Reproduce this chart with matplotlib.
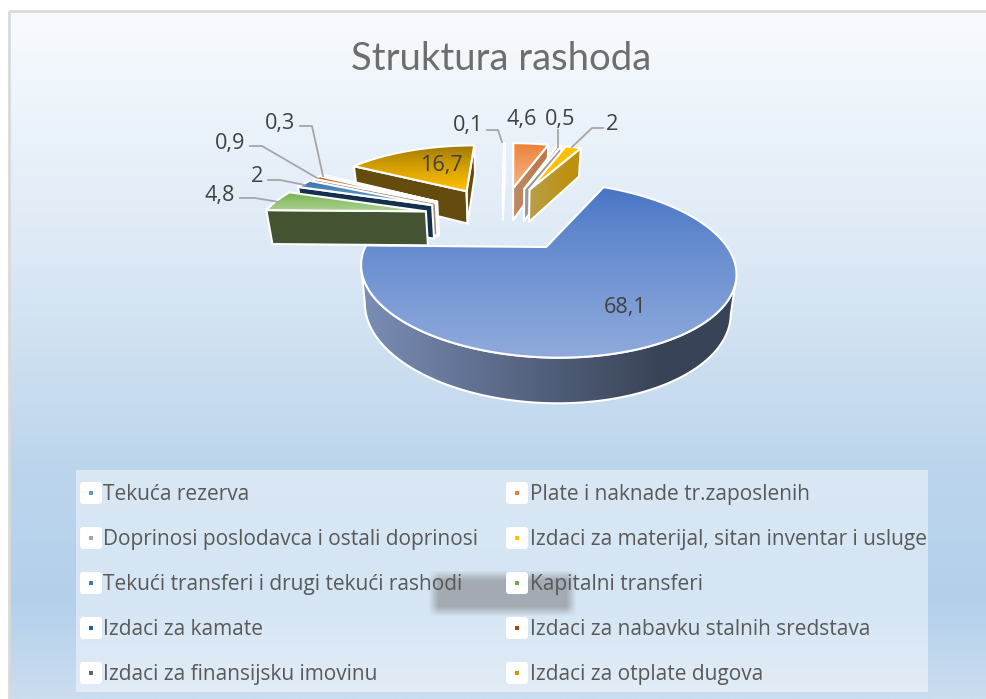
import numpy as np
import matplotlib
matplotlib.use("Agg")
import matplotlib.pyplot as plt
from matplotlib.patches import Polygon, Rectangle, FancyBboxPatch
from matplotlib.colors import to_rgb

title = "Struktura rashoda"
categories = ["Tekuća rezerva", "Plate i naknade tr.zaposlenih",
              "Doprinosi poslodavca i ostali doprinosi", "Izdaci za materijal, sitan inventar i usluge",
              "Tekući transferi i drugi tekući rashodi", "Kapitalni transferi",
              "Izdaci za kamate", "Izdaci za nabavku stalnih sredstava",
              "Izdaci za finansijsku imovinu", "Izdaci za otplate dugova"]
values = [0.1, 4.6, 0.5, 2, 68.1, 4.8, 2, 0.9, 0.3, 16.7]
value_labels = ["0,1", "4,6", "0,5", "2", "68,1", "4,8", "2", "0,9", "0,3", "16,7"]

# styles
legend_colors = ["#5B9BD5", "#ED7D31", "#A5A5A5", "#FFC000", "#4472C4", "#70AD47",
                 "#255E91", "#9E480E", "#636363", "#C79A00"]
top_dark = ["#FFFFFF", "#ED7D31", "#A5A5A5", "#FFC000", "#4472C4", "#70AD47",
            "#2E6CA4", "#B5541A", "#7A7A7A", "#997300"]
top_light = ["#FFFFFF", "#F4B183", "#C0C0C0", "#FFC000", "#8FAADC", "#A9D18E",
             "#6FA3D6", "#D99A6C", "#B0B0B0", "#FFC000"]
wall_a = ["#FFFFFF", "#BC8A68", "#9A9A9A", "#B79F4A", "#7A8DB5", "#445433",
          "#13304D", "#A58A78", "#777777", "#654C0E"]
wall_b = ["#FFFFFF", "#BC7A48", "#9A9A9A", "#BE900F", "#394357", "#445433",
          "#13304D", "#A58A78", "#777777", "#654C0E"]
label_pos = [(468, 126), (522, 119), (560, 119), (612, 124), (625, 307),
             (220, 196), (257, 176), (230, 143), (280, 123), (441, 165)]
leaders = [[(487, 130), (498, 130), (502, 142)], None, [(558, 130), (558, 147)],
           [(603, 128), (592, 128), (572, 147)], None,
           [(240, 198), (255, 198), (279, 202)], [(268, 180), (280, 180), (305, 185)],
           [(250, 146), (262, 146), (317, 178)], [(300, 126), (312, 126), (323, 176)], None]

W, H = 986, 699
fig = plt.figure(figsize=(W / 100, H / 100), dpi=100, facecolor="white")
ax = fig.add_axes([0, 0, 1, 1])
ax.set_axis_off()
FONT = ["Open Sans", "DejaVu Sans"]
TXT = "#595959"


def rgb(c):
    return np.array(to_rgb(c))


def gradient(poly, c0, c1, vertical=True, z=1, gamma=0.75):
    poly = np.asarray(poly)
    x0, y0 = poly.min(axis=0)
    x1, y1 = poly.max(axis=0)
    t = np.linspace(0, 1, 128)
    t = np.clip(t / 0.8, 0, 1) if not vertical else t ** gamma
    t = t[:, None] if vertical else t[None, :]
    img = rgb(c0) * (1 - t[..., None]) + rgb(c1) * t[..., None]
    im = ax.imshow(img, extent=(x0, x1 + 1e-3, y1 + 1e-3, y0), aspect="auto", zorder=z, interpolation="bilinear")
    patch = Polygon(poly, closed=True, transform=ax.transData, facecolor="none", edgecolor="none")
    ax.add_patch(patch)
    im.set_clip_path(patch)
    ax.add_patch(Polygon(poly, closed=True, facecolor="none", edgecolor="white", lw=1.5, zorder=z + 0.01,
                         joinstyle="round"))


# chart background
stops_y = [11, 240, 470, 600, 699]
stops_c = ["#F8FBFE", "#DEEAF6", "#BCD5EC", "#B3D0EB", "#CBDDF0"]
yy = np.linspace(11, 699, 256)
bg = np.stack([np.interp(yy, stops_y, [rgb(c)[i] for c in stops_c]) for i in range(3)], axis=1)[:, None, :]
ax.imshow(bg, extent=(9, W, H, 11), aspect="auto", zorder=0)
ax.add_patch(Rectangle((9, 11), W, H, facecolor="none", edgecolor="#D9D9D9", lw=2, zorder=0.5))

# perspective pie
VX, VX0, CY, XS, YS, PERSP, DEPTH, DEPTH_P, EXPL, LOW_X = 510, -0.2, 247, 181, 82, 0.259, 37, 0.7, 0.48, 0.975


def project(X, Y, low=False):
    s = 1 + PERSP * np.asarray(Y)
    f = LOW_X if low else 1.0
    return VX + f * XS * (np.asarray(X) - VX0) / s, CY - YS * np.asarray(Y) / s + (DEPTH / s ** DEPTH_P if low else 0)


CAM = np.array([VX0, -1 / PERSP])
shares = np.array(values) / np.sum(values)
edges = np.concatenate([[0], np.cumsum(shares)]) * 2 * np.pi
mids = (edges[:-1] + edges[1:]) / 2
big = int(np.argmax(values))
ox = -EXPL * np.sin(mids[big])
oy = -EXPL * np.cos(mids[big])
order = sorted(range(len(values)), key=lambda i: -(oy + EXPL * np.cos(mids[i])))

for k, i in enumerate(order):
    z = 2 + k
    ax_, ay_ = ox + EXPL * np.sin(mids[i]), oy + EXPL * np.cos(mids[i])
    th = np.linspace(edges[i], edges[i + 1], max(4, int((edges[i + 1] - edges[i]) * 60)))
    rx, ry = ax_ + np.sin(th), ay_ + np.cos(th)
    for ang, sign, c0, c1 in ((edges[i], -1, wall_a[i], wall_a[i]), (edges[i + 1], 1, wall_a[i], wall_b[i])):
        n = np.array([np.sin(ang + sign * np.pi / 2), np.cos(ang + sign * np.pi / 2)])
        if n @ (CAM - np.array([ax_, ay_])) > 0:
            px, py = ax_ + np.sin(ang), ay_ + np.cos(ang)
            gradient([project(ax_, ay_), project(px, py), project(px, py, True), project(ax_, ay_, True)],
                     c0, c1, vertical=False, z=z)
    vis = (np.sin(th) * (CAM[0] - rx) + np.cos(th) * (CAM[1] - ry)) > 0
    if vis.any():
        tx, ty = rx[vis], ry[vis]
        up = np.column_stack(project(tx, ty))
        lo = np.column_stack(project(tx, ty, True))
        gradient(np.vstack([up, lo[::-1]]), wall_a[i], wall_b[i], vertical=False, z=z + 0.1)
    fx = np.concatenate([[ax_], rx])
    fy = np.concatenate([[ay_], ry])
    gradient(np.column_stack(project(fx, fy)), top_dark[i], top_light[i], True, z=z + 0.2)

# labels
for i, (lab, (x, y)) in enumerate(zip(value_labels, label_pos)):
    ax.text(x, y, lab, fontsize=15.6, color="#404040", family=FONT, ha="center", va="center", zorder=40)
    if leaders[i]:
        ax.plot(*zip(*leaders[i]), color="#A6A6A6", lw=1.3, zorder=39)

ax.text(501, 59, title, fontsize=27.5, color="#6E6E6E", family=["Lato", "DejaVu Sans"],
        ha="center", va="center", zorder=40)

# legend
ax.add_patch(Rectangle((76, 470), 852, 222, facecolor="white", alpha=0.45, edgecolor="none", zorder=30))
sy, sx = np.mgrid[566:620, 424:580]
sa = (np.clip((sx - 428) / 10, 0, 1) * np.clip((576 - sx) / 10, 0, 1) *
      np.clip((sy - 570) / 10, 0, 1) * np.clip((616 - sy) / 10, 0, 1))
simg = np.dstack([np.full(sa.shape, 0.64), np.full(sa.shape, 0.67), np.full(sa.shape, 0.70), sa])
ax.imshow(simg, extent=(424, 580, 620, 566), aspect="auto", zorder=31, interpolation="bilinear")
rows_y = [493, 538, 583, 628, 673]
cols_x = [(91, 103), (517, 530)]
for i, cat in enumerate(categories):
    kx, tx = cols_x[i % 2]
    y = rows_y[i // 2]
    ax.add_patch(FancyBboxPatch((kx - 9, y - 9), 18, 18, boxstyle="round,pad=2,rounding_size=3",
                                facecolor="white", edgecolor="none", zorder=32))
    ax.add_patch(Rectangle((kx - 2, y - 2), 4, 4, facecolor=legend_colors[i], edgecolor="none", zorder=33))
    ax.text(tx, y + 1.5, cat, fontsize=15.03, color=TXT, family=FONT, ha="left", va="center", zorder=34)

ax.set_xlim(0, W)
ax.set_ylim(H, 0)
fig.savefig("out.png", dpi=100, facecolor="white")
